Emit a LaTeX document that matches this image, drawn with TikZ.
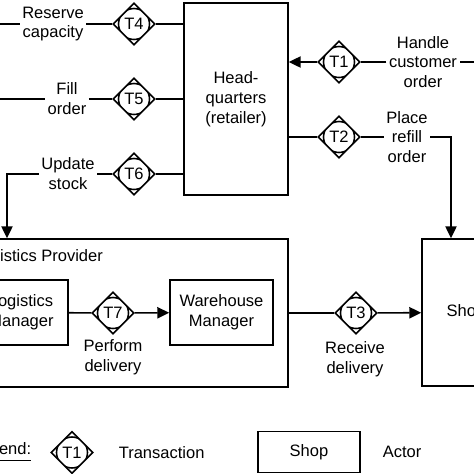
\documentclass[tikz,border=0pt]{standalone}
\usepackage{fontspec}
\setmainfont{Liberation Sans}
\usetikzlibrary{shapes.geometric, positioning, arrows.meta}

\begin{document}
\begin{tikzpicture}[x=0.02cm, y=-0.02cm, line width=0.9pt,
    every node/.style={font=\fontsize{9.4}{11.3}\selectfont, inner sep=1pt, align=center},
    trans/.style={draw, diamond, minimum width=0.84cm, minimum height=0.84cm, inner sep=0pt,
        path picture={\draw (path picture bounding box.center) circle (0.31cm);}},
    actor/.style={draw, rectangle, minimum height=1.3cm},
    arr/.style={-{Triangle[length=6.8pt, width=6.4pt]}}]
    \useasboundingbox (0,0) rectangle (474,474);
    \clip (0,0) rectangle (474,474);

    % actors
    \node[actor, minimum width=2.08cm, minimum height=3.84cm] (hq) at (236,99) {Head-\\quarters\\(retailer)};
    \node[draw, minimum width=6.48cm, minimum height=2.96cm] (lp) at (126,313) {};
    \node[anchor=west] (lptitle) at (-30,257) {Logistics Provider};
    \node[actor, minimum width=1.88cm] (lm) at (21,312.5) {Logistics\\Manager};
    \node[actor, minimum width=2.06cm] (wm) at (221.5,312.5) {Warehouse\\Manager};
    \node[actor, minimum width=1.76cm, minimum height=2.94cm] (shop) at (466,312.5) {Shop};

    % transactions
    \node[trans] (t1) at (339,62) {T1};
    \node[trans] (t2) at (339,137) {T2};
    \node[trans] (t3) at (356,313) {T3};
    \node[trans] (t4) at (134,24) {T4};
    \node[trans] (t5) at (134,99) {T5};
    \node[trans] (t6) at (134,174) {T6};
    \node[trans] (t7) at (113,313) {T7};

    % transaction names
    \node (lhand) at (423,62) {Handle\\customer\\order};
    \node (lplace) at (407,137) {Place\\refill\\order};
    \node (lres) at (53,24) {Reserve\\capacity};
    \node (lfill) at (67,99) {Fill\\order};
    \node (lupd) at (68,174) {Update\\stock};
    \node (lperf) at (113,357) {Perform\\delivery};
    \node (lrecv) at (355,359) {Receive\\delivery};

    % connectors
    \coordinate (e1) at (480,62);
    \draw (e1) -- (lhand) -- (t1);
    \draw[arr] (t1) -- (t1 -| hq.east);
    \coordinate (b2) at (451,137);
    \draw (t2 -| hq.east) -- (t2) -- (lplace);
    \draw[arr] (lplace) -- (b2) -- (b2 |- shop.north);
    \coordinate (e4) at (-10,24);
    \draw (e4) -- (lres) -- (t4) -- (t4 -| hq.west);
    \coordinate (e5) at (-10,99);
    \draw (e5) -- (lfill) -- (t5) -- (t5 -| hq.west);
    \coordinate (b6) at (7,174);
    \draw (t6 -| hq.west) -- (t6) -- (lupd);
    \draw[arr] (lupd) -- (b6) -- (b6 |- lp.north);
    \draw (lm) -- (t7);
    \draw[arr] (t7) -- (wm);
    \draw (t3 -| lp.east) -- (t3);
    \draw[arr] (t3) -- (shop);

    % legend
    \node[anchor=east, inner sep=0pt] (leg) at (32,452) {\underline{Legend:}};
    \node[trans] (tl) at (72,452.5) {T1};
    \node[right=0.45cm of tl] (ltrans) {Transaction};
    \node[actor, minimum width=2.04cm, minimum height=0.82cm] (shopl) at (309,452) {Shop};
    \node[right=0.39cm of shopl] (lactor) {Actor};
\end{tikzpicture}
\end{document}
